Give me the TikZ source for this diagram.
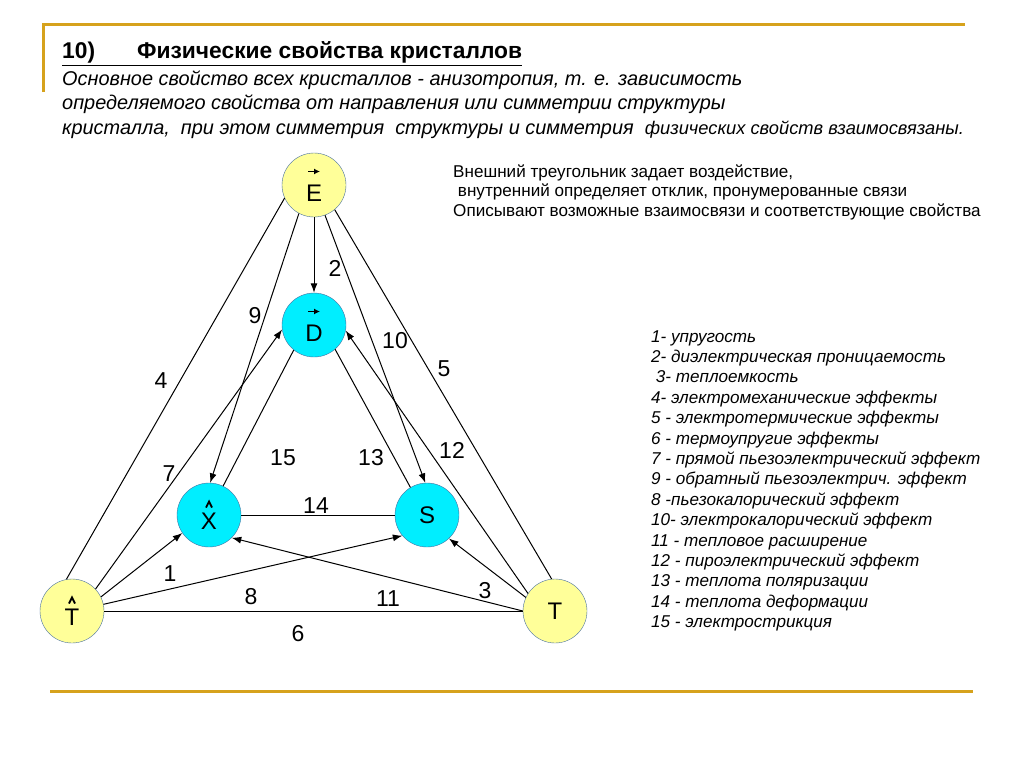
\documentclass[tikz,border=0pt]{standalone}
\usepackage{fontspec}
\setmainfont{Liberation Sans}
\usetikzlibrary{arrows.meta, positioning}
\definecolor{SlideGold}{RGB}{214,162,28}
\definecolor{RimBlue}{RGB}{72,112,160}
\definecolor{ActYellow}{RGB}{255,255,153}
\definecolor{RespCyan}{RGB}{0,238,255}
\newcommand{\vecmark}{\tikz\draw[-{Latex[length=6pt,width=6pt]},line width=1.2pt] (0,0)--(12pt,0);}
\newcommand{\hatmark}{\tikz\draw[line width=1.8pt] (0,0)--(3pt,6pt)--(6pt,0);}

\begin{document}
\begin{tikzpicture}[x=1pt,y=-1pt,
	cell/.style={circle,draw=RimBlue,thin,minimum size=64pt,inner sep=0pt,
		align=center,font=\fontsize{24}{24}\selectfont},
	act/.style={cell,fill=ActYellow},
	resp/.style={cell,fill=RespCyan},
	arr/.style={-{Latex[length=9.5pt,width=7pt]},line width=1pt},
	lnk/.style={line width=1pt},
	num/.style={font=\fontsize{23}{23}\selectfont,inner sep=0pt},
	txt/.style={anchor=base west,inner sep=0pt,align=left}]
\useasboundingbox (0,0) rectangle (1024,768);
% frame
\draw[SlideGold,line width=3pt] (43,92)--(43,25)--(965,25);
\draw[SlideGold,line width=3pt] (50,691)--(973,691);
% heading
\node[txt,font=\fontsize{22.8}{22.8}\selectfont\bfseries] (title) at (62,59)
	{\underline{10)\hspace{42pt}Физические свойства кристаллов}};
\node[txt,font=\fontsize{19.9}{19.9}\selectfont\itshape] (line1) at (62,85)
	{Основное свойство всех кристаллов - анизотропия, т. е. зависимость};
\node[txt,font=\fontsize{19.9}{19.9}\selectfont\itshape] (line2) at (62,109)
	{определяемого свойства от направления или симметрии структуры};
\node[txt,font=\fontsize{19.9}{19.9}\selectfont\itshape] (line3) at (62,134)
	{кристалла,\ \ при этом симметрия\ \ структуры и симметрия\ \ {\fontsize{18.3}{18.3}\selectfont физических свойств взаимосвязаны.}};
% legend
\node[txt,font=\fontsize{17.1}{19.5}\selectfont] (intro) at (453,216)
	{Внешний треугольник задает воздействие,\\
	\ внутренний определяет отклик, пронумерованные связи\\
	Описывают возможные взаимосвязи и соответствующие свойства};
\node[txt,font=\fontsize{17.1}{20.4}\selectfont\itshape] (list) at (651,627.6)
	{1- упругость\\
	2- диэлектрическая проницаемость\\
	\ 3- теплоемкость\\
	4- электромеханические эффекты\\
	5 - электротермические эффекты\\
	6 - термоупругие эффекты\\
	7 - прямой пьезоэлектрический эффект\\
	9 - обратный пьезоэлектрич. эффект\\
	8 -пьезокалорический эффект\\
	10- электрокалорический эффект\\
	11 - тепловое расширение\\
	12 - пироэлектрический эффект\\
	13 - теплота поляризации\\
	14 - теплота деформации\\
	15 - электрострикция};
% triangle of properties
\node[act] (E) at (314,185) {\vecmark\\[3pt]E};
\node[resp] (D) at (314,325) {\vecmark\\[3pt]D};
\node[resp] (X) at (209,515) {\hatmark\\[-3pt]X};
\node[resp] (S) at (427,515) {S};
\node[act] (Tl) at (72,611) {\hatmark\\[-3pt]T};
\node[act] (Tr) at (555,611) {T};
\foreach \a/\b in {E.204/Tl.100,E.310/Tr.96,Tl.0/Tr.180,D.231/X.64,D.311/S.121,X.0/S.180}
	\draw[lnk] (\a)--(\b);
\foreach \a/\b in {E.270/D.90,E.242/X.88,E.290/S.93,Tl.43/D.188,Tl.26/X.214,Tl.12/S.220,
	Tr.180/X.315,Tr.155/S.313,Tr.147/D.350}
	\draw[arr] (\a)--(\b);
\foreach \n/\x/\y in {2/335/268,9/255/316,10/395/341,5/444/369,4/161/381,7/169/474,
	15/283/458,13/371/458,12/452/450,14/316/506,1/170/574,8/251/597,11/388/599,3/485/591,6/298/634}
	\node[num] (L\n) at (\x,\y) {\n};
\end{tikzpicture}
\end{document}
